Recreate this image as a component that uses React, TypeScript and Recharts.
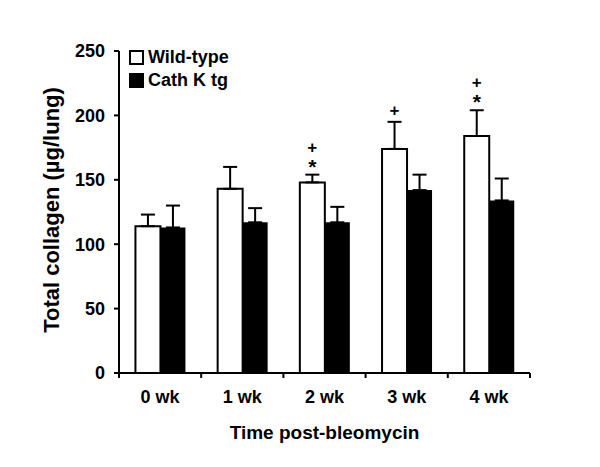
import { Bar, BarChart, ErrorBar, LabelList, XAxis, YAxis } from "recharts";

const weeks = ["0 wk", "1 wk", "2 wk", "3 wk", "4 wk"];
const wildType = [114, 143, 148, 174, 184];
const wildTypeErr = [9, 17, 6, 21, 20];
const cathK = [113, 117, 117, 142, 134];
const cathKErr = [17, 11, 12, 12, 17];
// significance marks above the wild-type bars, top to bottom
const marks = [[], [], ["+", "*"], ["+"], ["+", "*"]];
const yTicks = [0, 50, 100, 150, 200, 250];
const seriesNames = ["Wild-type", "Cath K tg"];

const FONT = "'Liberation Sans', Arial, sans-serif";

const rows = weeks.map((w, i) => ({
  week: w,
  wt: wildType[i],
  wtErr: [0, wildTypeErr[i]],
  ck: cathK[i],
  ckErr: [0, cathKErr[i]],
  marks: marks[i],
}));

/** Tick de categoría: etiqueta centrada y marcas en los bordes de cada grupo. */
function WeekTick({ x, y, payload, index, visibleTicksCount }: any) {
  const half = payload?.offset ?? 0;
  const last = index === visibleTicksCount - 1;
  return (
    <g>
      <line x1={x - half} x2={x - half} y1={y} y2={y + 5} stroke="#000" strokeWidth={2} />
      {last && <line x1={x + half} x2={x + half} y1={y} y2={y + 5} stroke="#000" strokeWidth={2} />}
      <text x={x} y={y + 30} textAnchor="middle" fontFamily={FONT} fontWeight={700} fontSize={18} fill="#000">
        {payload.value}
      </text>
    </g>
  );
}

// one text per bar, stacked with tspans so marks sit just above the error cap
function SigMarks(props: any) {
  const { x, y, width, height, index } = props;
  const r = rows[index];
  if (!r || !r.marks.length) return null;
  const errTop = y - (r.wtErr[1] * height) / r.wt;
  const cx = x + width / 2;
  const n = r.marks.length;
  return (
    <text textAnchor="middle" fontFamily={FONT} fontWeight={700} fill="#000">
      {r.marks.map((m: string, i: number) => {
        const center = errTop - 12 - (n - 1 - i) * 16;
        return m === "*" ? (
          <tspan key={i} x={cx} y={center + 11} fontSize={21}>
            *
          </tspan>
        ) : (
          <tspan key={i} x={cx} y={center + 6} fontSize={17}>
            +
          </tspan>
        );
      })}
    </text>
  );
}

function YLabel({ viewBox }: any) {
  const cx = viewBox.x + 51;
  const cy = viewBox.y + viewBox.height / 2 - 2;
  return (
    <text
      x={cx}
      y={cy}
      transform={`rotate(-90, ${cx}, ${cy})`}
      textAnchor="middle"
      dominantBaseline="central"
      fontFamily={FONT}
      fontWeight={700}
      fontSize={22}
      fill="#000"
    >
      Total collagen (µg/lung)
    </text>
  );
}

function XLabel({ viewBox }: any) {
  return (
    <text
      x={viewBox.x + viewBox.width / 2}
      y={viewBox.y + 66}
      textAnchor="middle"
      fontFamily={FONT}
      fontWeight={700}
      fontSize={19}
      fill="#000"
    >
      Time post-bleomycin
    </text>
  );
}

function LegendBox() {
  const fills = ["#fff", "#000"];
  return (
    <div
      style={{
        position: "absolute",
        top: 46,
        left: 129,
        fontFamily: FONT,
        fontWeight: 700,
        fontSize: 18,
        lineHeight: "23px",
        color: "#000",
      }}
    >
      {seriesNames.map((name, i) => (
        <div key={name} style={{ display: "flex", alignItems: "center", gap: 4 }}>
          <span style={{ width: 11, height: 11, border: "2px solid #000", background: fills[i], display: "inline-block" }} />
          {name}
        </div>
      ))}
    </div>
  );
}

export default function App() {
  return (
    <div style={{ position: "relative", width: 600, height: 467, background: "#fff" }}>
      <style>{"body{margin:0}"}</style>
      <BarChart
        width={600}
        height={467}
        data={rows}
        margin={{ top: 51, right: 70, left: 0, bottom: 0 }}
        barCategoryGap="20%"
        barGap={0}
      >
        <XAxis
          dataKey="week"
          height={94}
          axisLine={{ stroke: "#000", strokeWidth: 2 }}
          tickLine={false}
          tickSize={0}
          tickMargin={0}
          interval={0}
          tick={(p: any) => <WeekTick {...p} />}
          label={(p: any) => <XLabel {...p} />}
        />
        <YAxis
          width={119}
          domain={[0, 250]}
          ticks={yTicks}
          interval={0}
          axisLine={{ stroke: "#000", strokeWidth: 2 }}
          tickLine={{ stroke: "#000", strokeWidth: 2 }}
          tickSize={5}
          tickMargin={9}
          tick={{ fill: "#000", fontSize: 18, fontWeight: 700, fontFamily: FONT }}
          label={(p: any) => <YLabel {...p} />}
        />
        <Bar dataKey="wt" name={seriesNames[0]} fill="#fff" stroke="#000" strokeWidth={2} isAnimationActive={false}>
          <ErrorBar dataKey="wtErr" width={7} stroke="#000" strokeWidth={2} />
          <LabelList dataKey="wt" content={(p: any) => <SigMarks {...p} />} />
        </Bar>
        <Bar dataKey="ck" name={seriesNames[1]} fill="#000" isAnimationActive={false}>
          <ErrorBar dataKey="ckErr" width={7} stroke="#000" strokeWidth={2} />
        </Bar>
      </BarChart>
      <LegendBox />
    </div>
  );
}
